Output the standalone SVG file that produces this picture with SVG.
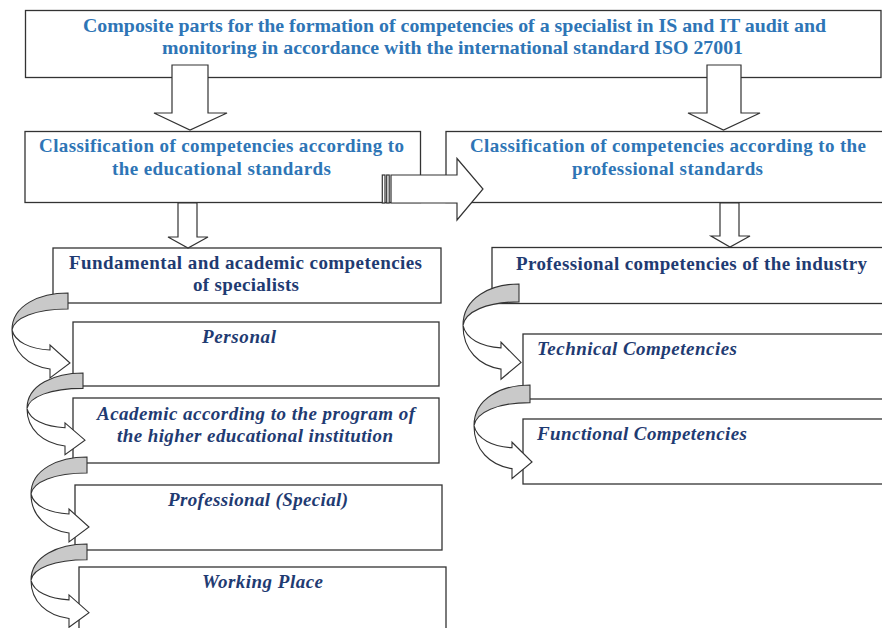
<svg xmlns="http://www.w3.org/2000/svg" width="882" height="628" viewBox="0 0 882 628">
<style>
.box{fill:#ffffff;stroke:#333333;stroke-width:1.3}
.arr{fill:#ffffff;stroke:#333333;stroke-width:1.2;stroke-linejoin:miter}
.band{fill:#c9c9c9;stroke:#333333;stroke-width:1.1}
.wband{fill:#ffffff;stroke:#333333;stroke-width:1.1}
.t{font-family:"Liberation Serif","Times New Roman",serif;font-weight:bold;font-size:19px}
.blue{fill:#2e75b6}
.navy{fill:#1f3b72}
.it{font-style:italic}
</style>
<defs>
<g id="curved">
<path class="band" d="M0,0 C-28,0 -56,12 -56,37 C-54,25 -33,16 0,16 Z"/>
<path class="wband" d="M-56,37 C-56,59 -40,73 -18,76 L-18,85 L2,70 L-18,52 L-18,57 C-38,56 -53,49 -56,37 Z"/>
</g>
</defs>
<rect width="882" height="628" fill="#ffffff"/>

<g id="n-top">
<rect class="box" x="25.5" y="10.5" width="855.5" height="67"/>
<text class="t blue" x="83" y="31.7" textLength="743" lengthAdjust="spacingAndGlyphs">Composite parts for the formation of competencies of a specialist in IS and IT audit and</text>
<text class="t blue" x="162" y="54" textLength="581" lengthAdjust="spacingAndGlyphs">monitoring in accordance with the international standard ISO 27001</text>
</g>

<g id="n-cls-edu">
<rect class="box" x="25" y="131.5" width="395.5" height="71"/>
<text class="t blue" x="39" y="152.3" textLength="365" lengthAdjust="spacing">Classification of competencies according to</text>
<text class="t blue" x="112" y="175" textLength="219" lengthAdjust="spacing">the educational standards</text>
</g>

<g id="n-cls-prof">
<rect class="box" x="446" y="131.5" width="450" height="71"/>
<text class="t blue" x="470" y="151.7" textLength="396" lengthAdjust="spacing">Classification of competencies according to the</text>
<text class="t blue" x="572" y="175" textLength="191" lengthAdjust="spacing">professional standards</text>
</g>

<g id="n-fund">
<rect class="box" x="53" y="248" width="388" height="55"/>
<text class="t navy" x="69" y="269" textLength="353" lengthAdjust="spacing">Fundamental and academic competencies</text>
<text class="t navy" x="193" y="290.7" textLength="106" lengthAdjust="spacing">of specialists</text>
</g>

<g id="n-personal">
<rect class="box" x="73" y="322" width="366" height="64"/>
<text class="t navy it" x="202" y="343" textLength="74" lengthAdjust="spacing">Personal</text>
</g>

<g id="n-academic">
<rect class="box" x="73" y="398" width="366" height="65"/>
<text class="t navy it" x="97" y="420" textLength="318" lengthAdjust="spacing">Academic according to the program of</text>
<text class="t navy it" x="117" y="441.7" textLength="276" lengthAdjust="spacing">the higher educational institution</text>
</g>

<g id="n-professional">
<rect class="box" x="75" y="485" width="367" height="65"/>
<text class="t navy it" x="168" y="506" textLength="180" lengthAdjust="spacing">Professional (Special)</text>
</g>

<g id="n-working">
<rect class="box" x="79" y="567" width="367" height="80"/>
<text class="t navy it" x="202" y="588" textLength="121" lengthAdjust="spacing">Working Place</text>
</g>

<g id="n-industry">
<rect class="box" x="492" y="247.5" width="400" height="56"/>
<text class="t navy" x="516" y="270" textLength="351" lengthAdjust="spacing">Professional competencies of the industry</text>
</g>

<g id="n-technical">
<rect class="box" x="523" y="334" width="370" height="65"/>
<text class="t navy it" x="537" y="355" textLength="200" lengthAdjust="spacing">Technical Competencies</text>
</g>

<g id="n-functional">
<rect class="box" x="523" y="419" width="370" height="65"/>
<text class="t navy it" x="537" y="440" textLength="210" lengthAdjust="spacing">Functional Competencies</text>
</g>

<g id="connectors">
<path class="arr" d="M172,65 L208,65 L208,113 L227,113 L190,130 L154,113 L172,113 Z"/>
<path class="arr" d="M707,65 L741,65 L741,113 L760,113 L723.5,130 L688,113 L707,113 Z"/>
<path class="arr" d="M178,203 L197,203 L197,237 L208,237 L188,248 L168,237 L178,237 Z"/>
<path class="arr" d="M720,203 L739,203 L739,236 L750,236 L730,247 L711,236 L720,236 Z"/>
<g id="striped-arrow">
<rect class="arr" x="382.3" y="175" width="2.7" height="28"/>
<rect class="arr" x="386.7" y="175" width="2.5" height="28"/>
<path class="arr" d="M391,175 L457,175 L457,158.5 L483,189 L457,220 L457,203 L391,203 Z"/>
</g>
<use href="#curved" transform="translate(68,293)"/>
<use href="#curved" transform="translate(83,373) scale(1,0.96)"/>
<use href="#curved" transform="translate(87,457)"/>
<use href="#curved" transform="translate(87,544) scale(1,0.98)"/>
<use href="#curved" transform="translate(519,284) scale(1,1.12)"/>
<use href="#curved" transform="translate(530,385) scale(1,1.1)"/>
</g>
</svg>
